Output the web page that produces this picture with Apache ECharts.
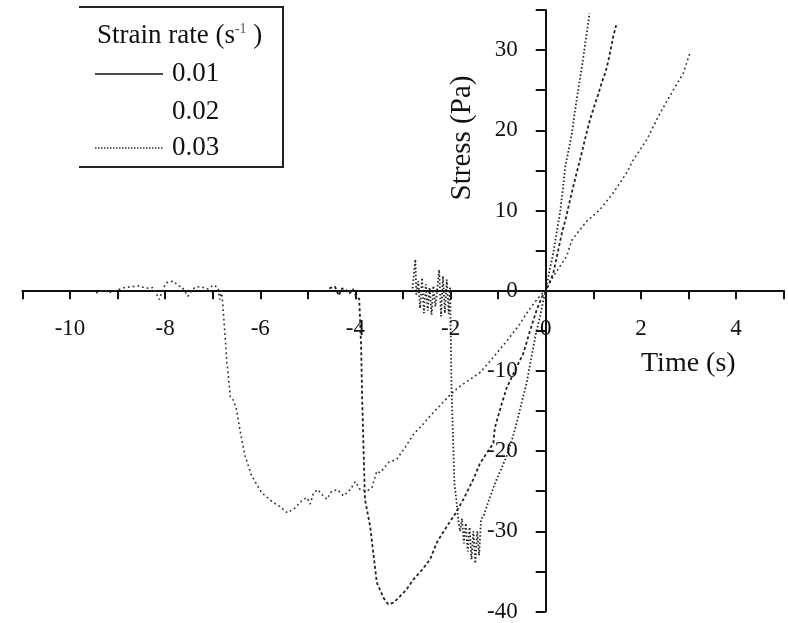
<!DOCTYPE html>
<html>
<head>
<meta charset="utf-8">
<script src="https://cdn.jsdelivr.net/npm/echarts@6/dist/echarts.min.js"></script>
<style>
  html, body { margin: 0; padding: 0; background: #fff; }
  #chart { width: 788px; height: 623px; }
</style>
</head>
<body>
<div id="chart"></div>
<script>
// Strain rate 0.01 s^-1
const time001 = [-9.45, -9.3, -9.15, -9.0, -8.85, -8.7, -8.55, -8.4, -8.25, -8.12, -8.05, -7.97, -7.83, -7.72, -7.65, -7.52, -7.42, -7.34, -7.2, -7.1, -6.99, -6.89, -6.85, -6.81, -6.76, -6.7, -6.63, -6.57, -6.5, -6.43, -6.32, -6.18, -5.97, -5.73, -5.59, -5.43, -5.27, -5.13, -5.02, -4.95, -4.88, -4.79, -4.71, -4.6, -4.5, -4.38, -4.25, -4.11, -4.0, -3.9, -3.76, -3.65, -3.55, -3.48, -3.3, -3.13, -2.95, -2.78, -2.6, -2.43, -2.2, -2.0, -1.8, -1.6, -1.38, -1.2, -1.03, -0.85, -0.69, -0.55, -0.4, -0.25, -0.1, 0, 0.16, 0.44, 0.55, 0.85, 1.14, 1.42, 1.7, 1.84, 2.12, 2.4, 2.68, 2.89, 3.03];
const stress001 = [-0.3, 0.1, -0.2, 0.1, 0.4, 0.5, 0.6, 0.3, 0.4, -1.1, 0.2, 1.0, 1.2, 0.6, 0.5, -0.7, 0.2, 0.5, 0.4, 0.2, 0.7, 0.4, -1.1, 0, -4, -9, -13.2, -13.6, -14.8, -17.3, -20.6, -23.1, -25.2, -26.4, -26.9, -27.7, -27.1, -26.2, -25.8, -26.6, -25.2, -24.8, -25.4, -26.0, -25.0, -24.8, -25.6, -24.8, -23.8, -24.8, -25.0, -24.5, -22.5, -22.7, -21.4, -21.0, -19.5, -17.9, -16.8, -15.6, -14.2, -12.9, -11.9, -11.1, -10.2, -9.0, -7.8, -6.5, -5.3, -4.2, -2.8, -1.6, -0.5, 0, 1.8, 4.3, 6.3, 8.6, 10.1, 12.2, 14.7, 16.3, 18.8, 22.1, 25.0, 27.1, 29.6];

// Strain rate 0.02 s^-1
const time002 = [-4.55, -4.43, -4.35, -4.28, -4.2, -4.13, -4.05, -3.98, -3.92, -3.88, -3.86, -3.83, -3.8, -3.69, -3.55, -3.41, -3.31, -3.2, -3.06, -2.92, -2.78, -2.6, -2.43, -2.29, -2.08, -1.9, -1.73, -1.52, -1.38, -1.1, -1.07, -0.95, -0.82, -0.65, -0.47, -0.33, -0.19, -0.08, 0, 0.08, 0.16, 0.25, 0.34, 0.43, 0.51, 0.58, 0.65, 0.72, 0.79, 0.86, 0.93, 1.02, 1.11, 1.18, 1.25, 1.31, 1.35, 1.42, 1.48];
const stress002 = [0.3, 0.5, -0.6, 0.3, 0.1, -0.4, 0.2, -0.8, -1.0, -7, -13, -19.5, -26, -29.4, -36.4, -38.3, -39.1, -38.9, -38.1, -37.2, -36.0, -34.8, -33.5, -31.4, -29.4, -27.8, -26.0, -23.5, -21.5, -19.0, -17.1, -14.6, -12.1, -10.0, -7.8, -5.0, -2.4, -0.8, 0, 1.0, 2.2, 4.7, 7.2, 9.2, 11.3, 13.0, 14.7, 16.3, 18.0, 19.7, 21.3, 23.0, 24.6, 26.0, 27.1, 28.5, 29.6, 31.7, 33.1];

// Strain rate 0.03 s^-1
const time003 = [-2.8, -2.74, -2.72, -2.68, -2.64, -2.6, -2.56, -2.52, -2.48, -2.44, -2.4, -2.36, -2.32, -2.28, -2.24, -2.2, -2.16, -2.12, -2.08, -2.04, -2.01, -2.0, -1.99, -1.98, -1.96, -1.94, -1.92, -1.88, -1.84, -1.8, -1.76, -1.72, -1.68, -1.64, -1.6, -1.56, -1.52, -1.48, -1.44, -1.4, -1.36, -1.3, -1.24, -1.14, -1.03, -0.92, -0.82, -0.71, -0.61, -0.5, -0.4, -0.33, -0.27, -0.2, -0.12, -0.05, 0, 0.08, 0.16, 0.23, 0.3, 0.36, 0.41, 0.48, 0.55, 0.6, 0.65, 0.7, 0.76, 0.8, 0.83, 0.88, 0.92];
const stress003 = [0.3, 3.9, -0.5, 1.2, -2.2, 1.6, -2.8, 0.8, -2.5, 0.4, -3.0, 0.6, -2.0, 0.2, 2.6, -3.2, 1.8, -2.8, 1.4, -2.9, 0.5, -4, -8, -12, -16, -20, -24, -26, -28.5, -30, -28.4, -31.5, -29, -32.5, -29.5, -33.5, -30, -34, -30, -33, -28.5, -28, -26.9, -25.2, -23.5, -22.0, -20.6, -18.6, -16.5, -13.8, -11.5, -9.2, -7.3, -5.2, -3.2, -1.2, 0, 2.5, 4.7, 7.3, 9.7, 12.6, 15.5, 17.5, 19.6, 21.8, 23.8, 25.7, 27.9, 29.5, 30.8, 32.8, 34.6];

const seriesNames = ['0.01', '0.02', '0.03'];
const legendTitle = 'Strain rate (s';
const xAxisTitle = 'Time (s)';
const yAxisTitle = 'Stress (Pa)';

const pairs = (t, s) => t.map((v, i) => [v, s[i]]);

const serif = '"Liberation Serif", "DejaVu Serif", serif';
const ink = '#111';

// plot area and axis ranges; the two axes cross at the origin
const gridBox = { left: 22.4, right: 4.4, top: 10, bottom: 10.8 };
const xRange = [-11, 5];
const yRange = [-40, 35];
const W = 788, H = 623;
const plotW = W - gridBox.left - gridBox.right;
const plotH = H - gridBox.top - gridBox.bottom;
// shift each axis from its grid edge onto the other axis's zero
const yAxisShift = -plotW * (0 - xRange[0]) / (xRange[1] - xRange[0]);
const xAxisShift = -plotH * (0 - yRange[0]) / (yRange[1] - yRange[0]);

const chart = echarts.init(document.getElementById('chart'), null, { renderer: 'canvas' });

chart.setOption({
  animation: false,
  backgroundColor: '#fff',
  grid: Object.assign({ containLabel: false }, gridBox),
  xAxis: {
    type: 'value',
    position: 'bottom',
    offset: xAxisShift,
    min: xRange[0], max: xRange[1], interval: 1,
    axisLine: { onZero: false, lineStyle: { color: ink, width: 2 } },
    axisTick: { length: 9, lineStyle: { color: ink, width: 2 } },
    axisLabel: {
      margin: 27,
      fontFamily: serif, fontSize: 23, color: ink,
      formatter: v => (Math.round(v) % 2 === 0 ? String(v) : '')
    },
    splitLine: { show: false }
  },
  yAxis: {
    type: 'value',
    position: 'left',
    offset: yAxisShift,
    min: yRange[0], max: yRange[1], interval: 5,
    axisLine: { onZero: false, lineStyle: { color: ink, width: 2 } },
    axisTick: { length: 10, lineStyle: { color: ink, width: 2 } },
    axisLabel: {
      margin: 28,
      fontFamily: serif, fontSize: 23, color: ink,
      formatter: v => (Math.round(v) % 10 === 0 ? String(v) : '')
    },
    splitLine: { show: false }
  },
  series: [
    {
      name: seriesNames[0], type: 'line', symbol: 'none',
      data: pairs(time001, stress001),
      lineStyle: { color: '#333', width: 1.6, type: [1.8, 3] }
    },
    {
      name: seriesNames[1], type: 'line', symbol: 'none',
      data: pairs(time002, stress002),
      lineStyle: { color: '#222', width: 1.8, type: [3, 2.5] }
    },
    {
      name: seriesNames[2], type: 'line', symbol: 'none',
      data: pairs(time003, stress003),
      lineStyle: { color: '#222', width: 1.8, type: [1.5, 2.2] }
    }
  ],
  graphic: [
    // legend frame (top, right and bottom edges)
    {
      type: 'polyline', silent: true,
      shape: { points: [[79, 7], [283, 7], [283, 167], [79, 167]] },
      style: { stroke: '#222', lineWidth: 2, fill: null }
    },
    {
      type: 'text', left: 97, top: 22, silent: true,
      style: {
        text: legendTitle + '{sup|-1}{gap| })',
        font: '27px ' + serif, fill: ink,
        rich: {
          sup: { fontSize: 14, fontFamily: serif, fill: '#555', verticalAlign: 'top', padding: [0, 0, 12, 0] },
          gap: { fontSize: 27, fontFamily: serif }
        }
      }
    },
    {
      type: 'line', silent: true,
      shape: { x1: 95, y1: 74, x2: 163, y2: 74 },
      style: { stroke: ink, lineWidth: 1.6 }
    },
    {
      type: 'text', left: 172, top: 60, silent: true,
      style: { text: seriesNames[0], font: '27px ' + serif, fill: ink }
    },
    {
      type: 'text', left: 172, top: 98, silent: true,
      style: { text: seriesNames[1], font: '27px ' + serif, fill: ink }
    },
    {
      type: 'line', silent: true,
      shape: { x1: 95, y1: 148, x2: 163, y2: 148 },
      style: { stroke: '#333', lineWidth: 1.4, lineDash: [1.5, 1.5] }
    },
    {
      type: 'text', left: 172, top: 134, silent: true,
      style: { text: seriesNames[2], font: '27px ' + serif, fill: ink }
    },
    // axis titles
    {
      type: 'text', left: 641, top: 350, silent: true,
      style: { text: xAxisTitle, font: '28px ' + serif, fill: ink }
    },
    {
      type: 'text', x: 462, y: 138, rotation: Math.PI / 2, silent: true,
      style: { text: yAxisTitle, font: '29px ' + serif, fill: ink, align: 'center', verticalAlign: 'middle' }
    }
  ]
});
</script>
</body>
</html>
